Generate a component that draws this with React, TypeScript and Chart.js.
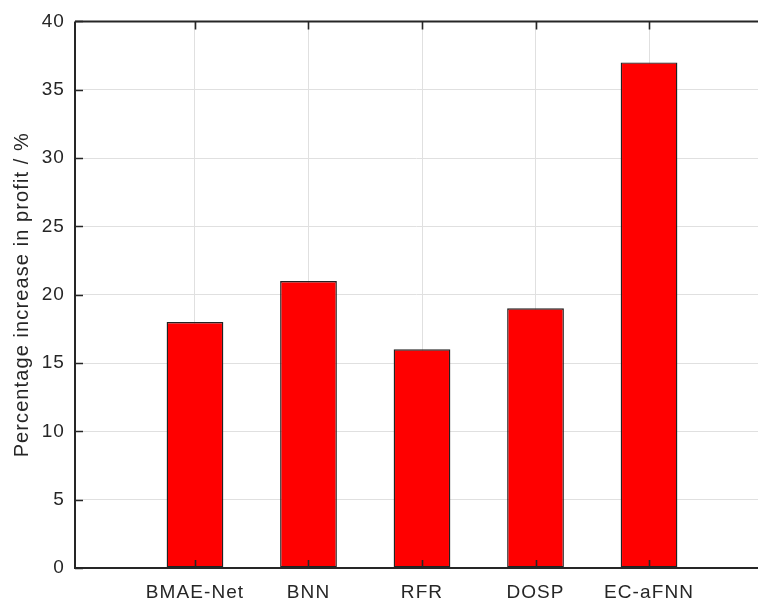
import React, { useEffect, useRef } from "react";
import { Chart, registerables } from "chart.js";

Chart.register(...registerables);

const categories = ["BMAE-Net", "BNN", "RFR", "DOSP", "EC-aFNN"];
const profitIncrease = [18, 21, 16, 19, 37];
const yTickValues = [0, 5, 10, 15, 20, 25, 30, 35, 40];
const yTitle = "Percentage increase in profit / %";

const X_MIN = -0.057;
const X_MAX = 5.96;
const Y_MIN = 0;
const Y_MAX = 40;

const INK = "#262626";
const FONT_FAMILY = "'Liberation Sans', Arial, Helvetica, sans-serif";

const framePlugin = {
  id: "frame",
  beforeDraw(chart: any) {
    (chart.ctx as any).letterSpacing = "1.1px";
  },
  afterDatasetsDraw(chart: any) {
    const { ctx, chartArea, scales } = chart;
    const { left, right, top, bottom } = chartArea;
    const x = scales.x;
    const y = scales.y;
    ctx.save();
    ctx.strokeStyle = INK;
    ctx.lineWidth = 2;
    ctx.beginPath();
    ctx.moveTo(left, top);
    ctx.lineTo(right + 2, top);
    ctx.moveTo(left, top);
    ctx.lineTo(left, bottom);
    ctx.lineTo(right + 2, bottom);
    ctx.stroke();
    ctx.lineWidth = 1.6;
    ctx.beginPath();
    x.ticks.forEach((t: any) => {
      const px = Math.round(x.getPixelForValue(t.value)) + 0.5;
      ctx.moveTo(px, bottom);
      ctx.lineTo(px, bottom - 8);
      ctx.moveTo(px, top);
      ctx.lineTo(px, top + 8);
    });
    y.ticks.forEach((t: any) => {
      const py = Math.round(y.getPixelForValue(t.value)) + 0.5;
      ctx.moveTo(left, py);
      ctx.lineTo(left + 8, py);
    });
    ctx.stroke();
    ctx.restore();
  },
};

export default function App() {
  const canvasRef = useRef<HTMLCanvasElement | null>(null);

  useEffect(() => {
    if (!canvasRef.current) return;
    const chart = new Chart(canvasRef.current, {
      type: "bar",
      data: {
        datasets: [
          {
            data: categories.map((_, i) => ({ x: i + 1, y: profitIncrease[i] })),
            backgroundColor: "#ff0000",
            borderColor: "#222222",
            borderWidth: 1.4,
            borderSkipped: false,
            barPercentage: 0.5,
            categoryPercentage: 1,
          },
        ],
      },
      options: {
        animation: false,
        responsive: true,
        maintainAspectRatio: false,
        layout: { padding: { left: 0, right: 0, top: 21, bottom: 0 } },
        plugins: {
          legend: { display: false },
          tooltip: { enabled: false },
        },
        scales: {
          x: {
            type: "linear",
            offset: false,
            min: X_MIN,
            max: X_MAX,
            afterBuildTicks: (scale: any) => {
              scale.ticks = categories.map((_, i) => ({ value: i + 1 }));
            },
            afterFit: (scale: any) => {
              scale.height = 33;
            },
            grid: {
              offset: false,
              color: "#e0e0e0",
              lineWidth: 1,
              drawTicks: false,
            },
            border: { display: false },
            ticks: {
              autoSkip: false,
              maxRotation: 0,
              minRotation: 0,
              padding: 13,
              color: INK,
              font: { family: FONT_FAMILY, size: 19 },
              callback: (_v: any, index: number) => categories[index] ?? "",
            },
          },
          y: {
            type: "linear",
            min: Y_MIN,
            max: Y_MAX,
            afterBuildTicks: (scale: any) => {
              scale.ticks = yTickValues.map((v) => ({ value: v }));
            },
            afterFit: (scale: any) => {
              scale.width = 75;
            },
            grid: {
              color: "#e0e0e0",
              lineWidth: 1,
              drawTicks: false,
            },
            border: { display: false },
            ticks: {
              padding: 10,
              color: INK,
              font: { family: FONT_FAMILY, size: 19 },
              callback: (v: any) => String(v),
            },
            title: {
              display: true,
              text: yTitle,
              color: INK,
              font: { family: FONT_FAMILY, size: 20 },
              padding: { top: 10, bottom: 0 },
            },
          },
        },
      },
      plugins: [framePlugin],
    });
    return () => chart.destroy();
  }, []);

  return (
    <div style={{ position: "absolute", left: 0, top: 0, width: 758, height: 601, background: "#ffffff" }}>
      <canvas ref={canvasRef} />
    </div>
  );
}
